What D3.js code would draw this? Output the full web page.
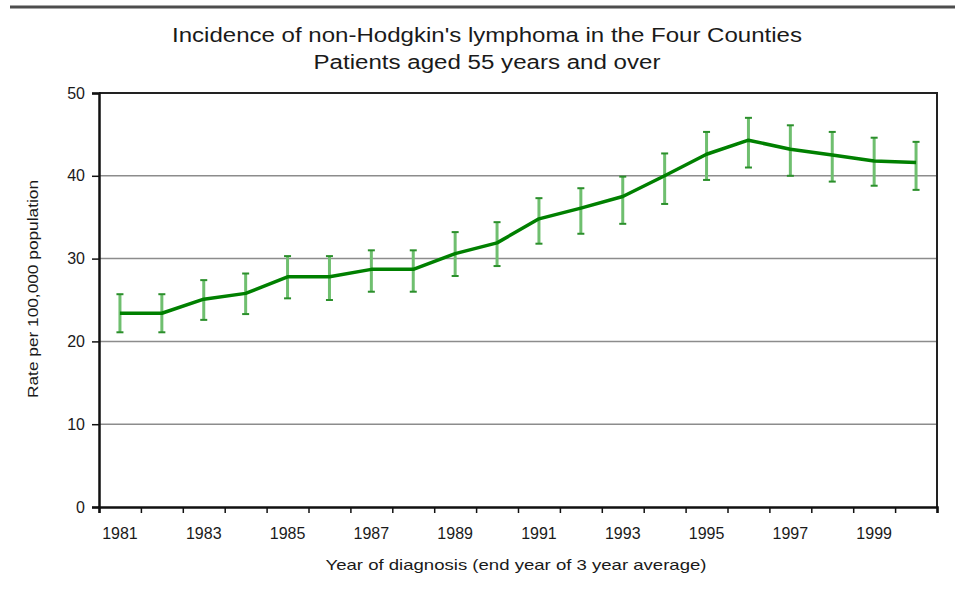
<!DOCTYPE html>
<html>
<head>
<meta charset="utf-8">
<script src="https://cdn.jsdelivr.net/npm/d3@7"></script>
<style>
  body { margin: 0; background: #fff; }
  text { font-family: "Liberation Sans", Arial, sans-serif; fill: #1a1a1a; }
</style>
</head>
<body>
<script>
var years = [1981, 1982, 1983, 1984, 1985, 1986, 1987, 1988, 1989, 1990,
             1991, 1992, 1993, 1994, 1995, 1996, 1997, 1998, 1999, 2000];
var rate  = [23.4, 23.4, 25.1, 25.8, 27.8, 27.8, 28.7, 28.7, 30.6, 31.9,
             34.8, 36.1, 37.5, 40.0, 42.6, 44.3, 43.2, 42.5, 41.8, 41.6];
var upper = [25.7, 25.7, 27.4, 28.2, 30.3, 30.3, 31.0, 31.0, 33.2, 34.4,
             37.3, 38.5, 39.9, 42.7, 45.3, 47.0, 46.1, 45.3, 44.6, 44.1];
var lower = [21.1, 21.1, 22.6, 23.3, 25.2, 25.0, 26.0, 26.0, 27.9, 29.1,
             31.8, 33.0, 34.2, 36.6, 39.5, 41.0, 40.0, 39.3, 38.8, 38.3];
var yTicks = [0, 10, 20, 30, 40, 50];
var xLabels = [1981, 1983, 1985, 1987, 1989, 1991, 1993, 1995, 1997, 1999];

var width = 955, height = 592;
var plotL = 99, plotR = 937, plotT = 93, plotB = 507;

var data = years.map(function(yr, i){
  return {year: yr, rate: rate[i], hi: upper[i], lo: lower[i]};
});

var svg = d3.select("body").append("svg")
    .attr("width", width)
    .attr("height", height);

// rule across the top of the page
svg.append("line")
    .attr("x1", 10).attr("x2", width)
    .attr("y1", 7).attr("y2", 7)
    .style("stroke", "#4d4d4d").style("stroke-width", 3);

var x = d3.scaleBand().domain(years).range([plotL, plotR]).padding(0);
var xb = d3.scaleLinear().domain([1980.5, 2000.5]).range([plotL, plotR]);
var y = d3.scaleLinear().domain([0, 50]).range([plotB, plotT]);
var cx = function(d){ return x(d.year) + x.bandwidth() / 2; };

// gridlines
svg.append("g").selectAll("line").data(yTicks.slice(1, -1)).enter()
  .append("line")
    .attr("x1", plotL).attr("x2", plotR)
    .attr("y1", function(d){ return y(d); })
    .attr("y2", function(d){ return y(d); })
    .style("stroke", "#8c8c8c").style("stroke-width", 1.5);

// top and right border of the plot
svg.append("path")
    .attr("d", "M" + plotL + "," + y(50) + "H" + plotR + "V" + plotB)
    .style("fill", "none").style("stroke", "#222").style("stroke-width", 2);

// y axis
var yAxis = svg.append("g")
    .attr("transform", "translate(" + plotL + ",0)")
    .call(d3.axisLeft(y).tickValues(yTicks).tickSize(7).tickPadding(7));
yAxis.select(".domain").style("stroke", "#111").style("stroke-width", 2.5);
yAxis.selectAll(".tick line").style("stroke", "#111").style("stroke-width", 1.5);
yAxis.selectAll(".tick text").style("font-size", "16px");

// x axis: ticks on the category boundaries, labels on every other year
var xAxis = svg.append("g")
    .attr("transform", "translate(0," + plotB + ")")
    .call(d3.axisBottom(xb).tickValues(d3.range(1980.5, 2001, 1)).tickSize(6).tickFormat(""));
xAxis.select(".domain").style("stroke", "#111").style("stroke-width", 2.5);
xAxis.selectAll(".tick line").style("stroke", "#111").style("stroke-width", 1.5);

var xLab = svg.append("g")
    .attr("transform", "translate(0," + plotB + ")")
    .call(d3.axisBottom(x).tickValues(xLabels).tickSize(0).tickPadding(21));
xLab.select(".domain").remove();
xLab.selectAll(".tick text").style("font-size", "16px");

// error bars
var bars = svg.append("g").selectAll("g").data(data).enter().append("g");
bars.append("line")
    .attr("x1", cx).attr("x2", cx)
    .attr("y1", function(d){ return y(d.hi); })
    .attr("y2", function(d){ return y(d.lo); })
    .style("stroke", "#6fbf6f").style("stroke-width", 3);
bars.selectAll("line.cap").data(function(d){ return [d.hi, d.lo].map(function(v){ return {c: cx(d), v: v}; }); })
  .enter().append("line")
    .attr("class", "cap")
    .attr("x1", function(d){ return d.c - 3.5; })
    .attr("x2", function(d){ return d.c + 3.5; })
    .attr("y1", function(d){ return y(d.v); })
    .attr("y2", function(d){ return y(d.v); })
    .style("stroke", "#2b8f2b").style("stroke-width", 2);

// main line
var line = d3.line()
    .x(cx)
    .y(function(d){ return y(d.rate); });
svg.append("path")
    .datum(data)
    .attr("d", line)
    .style("fill", "none")
    .style("stroke", "#008000")
    .style("stroke-width", 3.5)
    .style("stroke-linejoin", "round");

// titles
svg.append("text")
    .attr("x", 487).attr("y", 42)
    .attr("text-anchor", "middle")
    .attr("textLength", 630).attr("lengthAdjust", "spacingAndGlyphs")
    .style("font-size", "20px")
    .text("Incidence of non-Hodgkin's lymphoma in the Four Counties");
svg.append("text")
    .attr("x", 487).attr("y", 69)
    .attr("text-anchor", "middle")
    .attr("textLength", 347).attr("lengthAdjust", "spacingAndGlyphs")
    .style("font-size", "20px")
    .text("Patients aged 55 years and over");

svg.append("text")
    .attr("x", 516).attr("y", 570)
    .attr("text-anchor", "middle")
    .attr("textLength", 381).attr("lengthAdjust", "spacingAndGlyphs")
    .style("font-size", "15px")
    .text("Year of diagnosis (end year of 3 year average)");

svg.append("text")
    .attr("transform", "translate(38,289) rotate(-90)")
    .attr("text-anchor", "middle")
    .attr("textLength", 218).attr("lengthAdjust", "spacingAndGlyphs")
    .style("font-size", "15px")
    .text("Rate per 100,000 population");
</script>
</body>
</html>
